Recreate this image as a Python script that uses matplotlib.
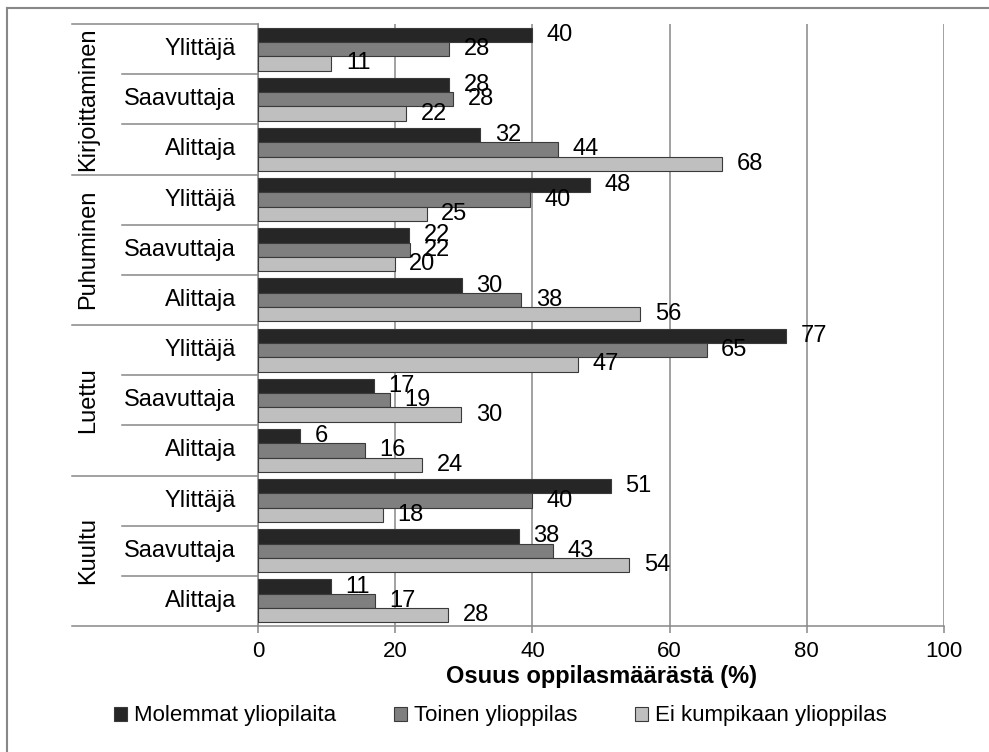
import matplotlib.pyplot as plt
import numpy as np
from matplotlib.patches import Patch
from matplotlib.lines import Line2D

plt.rcParams['font.family'] = ['Liberation Sans', 'DejaVu Sans']

# categories, top to bottom
groups = ["Kirjoittaminen", "Puhuminen", "Luettu", "Kuultu"]
levels = ["Ylittäjä", "Saavuttaja", "Alittaja"]
series = ["Molemmat yliopilaita", "Toinen ylioppilas", "Ei kumpikaan ylioppilas"]

# values in % (12 rows: group x level)
molemmat = [39.9, 27.9, 32.4, 48.4, 22.0, 29.7, 77.0, 16.9, 6.1, 51.4, 38.0, 10.6]
toinen = [27.9, 28.4, 43.7, 39.6, 22.1, 38.4, 65.4, 19.2, 15.6, 39.9, 43.0, 17.0]
ei_kumpikaan = [10.7, 21.6, 67.6, 24.6, 19.9, 55.7, 46.6, 29.6, 23.9, 18.2, 54.1, 27.7]

colors = ['#262626', '#7f7f7f', '#bfbfbf']
line_gray = '#888888'
fs = 17

fig = plt.figure(figsize=(9.89, 7.52), dpi=100)
ax = fig.add_axes([258/989, 1 - 626/752, 686/989, 602/752])

y = np.arange(len(molemmat))
h = 0.285
for k, (vals, c, name) in enumerate(zip([molemmat, toinen, ei_kumpikaan], colors, series)):
    bars = ax.barh(y + (k - 1) * h, vals, height=h, color=c, edgecolor='#3a3a3a',
                   linewidth=0.8, label=name, zorder=3)
    for b, v in zip(bars, vals):
        ax.annotate(f"{v:.0f}", (v, b.get_y() + h / 2), xytext=(10.5, 0),
                    textcoords='offset points', ha='left', va='center', fontsize=fs)

ax.set_xlim(0, 100)
ax.set_ylim(11.5, -0.5)
ax.set_xticks(range(0, 101, 20))
ax.set_yticks([])
ax.xaxis.grid(True, color=line_gray, linewidth=1.1)
ax.set_axisbelow(True)
ax.tick_params(axis='x', colors=line_gray, labelcolor='black', labelsize=16,
               length=5, width=1.1, pad=6)
for s in ['top', 'right']:
    ax.spines[s].set_visible(False)
for s in ['left', 'bottom']:
    ax.spines[s].set_color(line_gray)
    ax.spines[s].set_linewidth(1.1)

ax.set_xlabel("Osuus oppilasmäärästä (%)", fontsize=fs, fontweight='bold', labelpad=2)

# two-level category labels on the left
tr = ax.get_yaxis_transform()
for i in range(len(y)):
    ax.text(-0.032, i, levels[i % 3], transform=tr, ha='right', va='center', fontsize=fs)
for g, name in enumerate(groups):
    ax.text(-0.248, 3 * g + 1, name, transform=tr, rotation=90, ha='center',
            va='center', fontsize=fs)
for b in np.arange(-0.5, 12, 1):
    x0 = -0.271 if (b + 0.5) % 3 == 0 else -0.198
    ax.plot([x0, 0], [b, b], transform=tr, color=line_gray, lw=1.1, clip_on=False)

handles = [Patch(facecolor=c, edgecolor='#3a3a3a', linewidth=0.8) for c in colors]
fig.legend(handles, series, loc='center', bbox_to_anchor=(500/989, 1 - 716/752),
           ncol=3, frameon=False, fontsize=16, handlelength=0.6, handleheight=0.6,
           handletextpad=0.3, columnspacing=2.6)

# chart border (only top and left edges are visible in the crop)
fig.add_artist(Line2D([7/989, 7/989], [0, 1 - 8/752], transform=fig.transFigure,
                      color=line_gray, lw=1.5))
fig.add_artist(Line2D([7/989, 1], [1 - 8/752, 1 - 8/752], transform=fig.transFigure,
                      color=line_gray, lw=1.5))

fig.savefig("out.png", dpi=100)
